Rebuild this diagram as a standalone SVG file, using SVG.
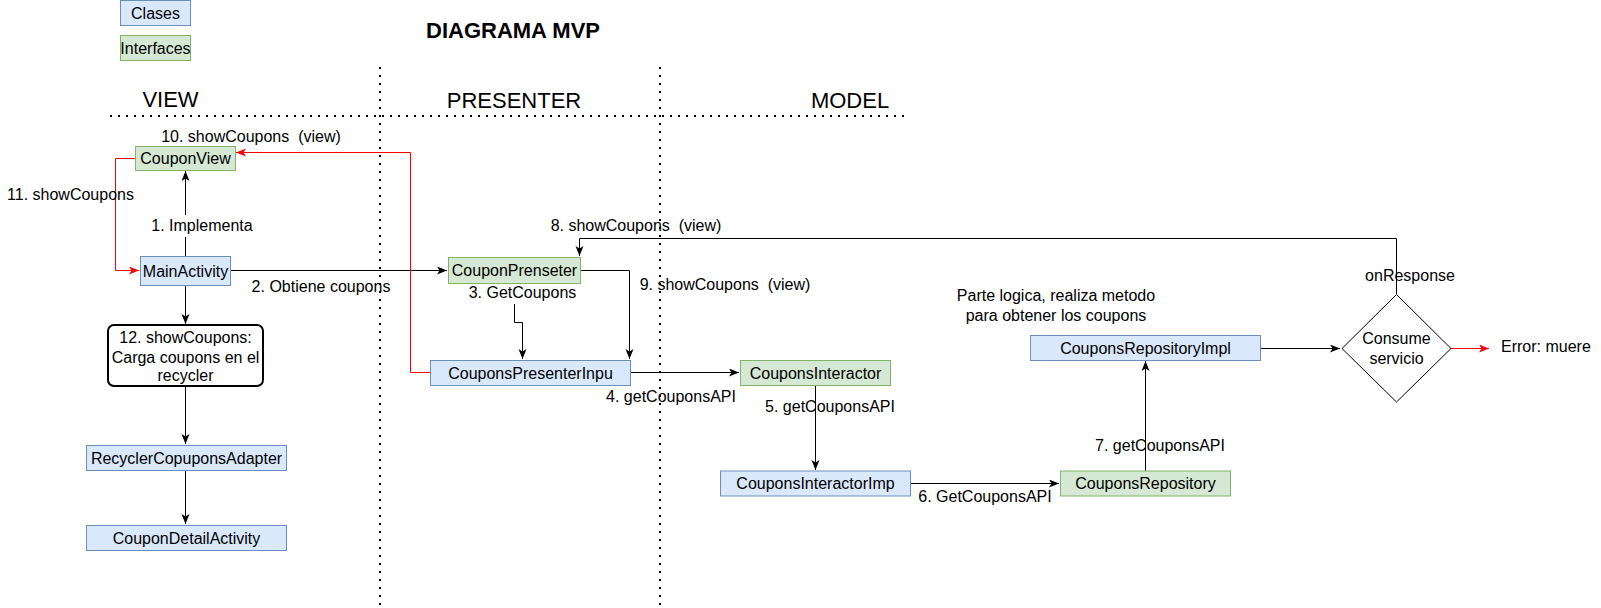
<svg xmlns="http://www.w3.org/2000/svg" width="1601" height="608" viewBox="0 0 1601 608">
<style>
text{font-family:"Liberation Sans",Arial,sans-serif;font-size:16px;fill:#000;white-space:pre}
.c{text-anchor:middle}
.cls{fill:#dae8fc;stroke:#6c8ebf;stroke-width:1}
.ifc{fill:#d5e8d4;stroke:#82b366;stroke-width:1}
.e{fill:none;stroke:#000;stroke-width:1}
.r{fill:none;stroke:#ff0000;stroke-width:1}
.dot{fill:none;stroke:#000;stroke-width:2;stroke-dasharray:2 6}
.hdr{font-size:22px;text-anchor:middle}
</style>
<defs>
<marker id="a" markerUnits="userSpaceOnUse" markerWidth="12" markerHeight="10" refX="10" refY="4" orient="auto" viewBox="0 0 12 10">
<path d="M0,0 L10,4 L0,8 L2.5,4 Z" fill="#000"/>
</marker>
<marker id="ar" markerUnits="userSpaceOnUse" markerWidth="12" markerHeight="10" refX="10" refY="4" orient="auto" viewBox="0 0 12 10">
<path d="M0,0 L10,4 L0,8 L2.5,4 Z" fill="#ff0000"/>
</marker>
</defs>
<rect width="1601" height="608" fill="#fff"/>

<g id="lanes">
<line class="dot" x1="110" y1="116" x2="910" y2="116"/>
<line class="dot" x1="380" y1="67" x2="380" y2="608"/>
<line class="dot" x1="660" y1="67" x2="660" y2="608"/>
<text x="513" y="37.5" style="font-size:22px;font-weight:bold;text-anchor:middle">DIAGRAMA MVP</text>
<text class="hdr" x="170.5" y="107">VIEW</text>
<text class="hdr" x="514" y="108">PRESENTER</text>
<text class="hdr" x="850" y="108">MODEL</text>
</g>

<g id="legend-clases"><rect class="cls" x="120.5" y="0.5" width="70" height="25"/><text class="c" x="155.5" y="18.5">Clases</text></g>
<g id="legend-interfaces"><rect class="ifc" x="120.5" y="35.5" width="70" height="25"/><text class="c" x="155.5" y="53.5">Interfaces</text></g>

<g id="connectors">
<path class="e" d="M185.5,256 V171" marker-end="url(#a)"/>
<path class="e" d="M230,270.5 H447" marker-end="url(#a)"/>
<path class="e" d="M514.5,283 V322.5 H522.5 V359" marker-end="url(#a)"/>
<path class="e" d="M630,372.5 H739" marker-end="url(#a)"/>
<path class="e" d="M815.5,385 V470" marker-end="url(#a)"/>
<path class="e" d="M910,483.5 H1059" marker-end="url(#a)"/>
<path class="e" d="M1145.5,471 V361" marker-end="url(#a)"/>
<path class="e" d="M1260,348.5 H1340" marker-end="url(#a)"/>
<path class="e" d="M1396.5,294 V238.5 H579.5 V256" marker-end="url(#a)"/>
<path class="e" d="M580,270.5 H629.5 V359" marker-end="url(#a)"/>
<path class="r" d="M430,372.5 H410.5 V152.5 H236" marker-end="url(#ar)"/>
<path class="r" d="M135,158.5 H115.5 V270.5 H139" marker-end="url(#ar)"/>
<path class="r" d="M1451,348.5 H1489" marker-end="url(#ar)"/>
<path class="e" d="M185.5,285 V324" marker-end="url(#a)"/>
<path class="e" d="M185.5,386 V444" marker-end="url(#a)"/>
<path class="e" d="M185.5,471 V524" marker-end="url(#a)"/>
</g>

<g id="edge-labels">
<text class="c" x="251" y="142">10. showCoupons  (view)</text>
<text class="c" x="70.5" y="200">11. showCoupons</text>
<rect x="150" y="215" width="104" height="22" fill="#fff"/>
<text class="c" x="202" y="231">1. Implementa</text>
<text class="c" x="321" y="292">2. Obtiene coupons</text>
<rect x="467" y="284" width="111" height="20" fill="#fff"/>
<text class="c" x="522.5" y="298">3. GetCoupons</text>
<text class="c" x="636" y="231">8. showCoupons  (view)</text>
<text class="c" x="725" y="290">9. showCoupons  (view)</text>
<text class="c" x="671" y="402">4. getCouponsAPI</text>
<text class="c" x="830" y="412">5. getCouponsAPI</text>
<text class="c" x="985" y="502">6. GetCouponsAPI</text>
<text class="c" x="1160" y="451">7. getCouponsAPI</text>
<text class="c" x="1410" y="281">onResponse</text>
<text class="c" x="1056" y="301">Parte logica, realiza metodo</text>
<text class="c" x="1056" y="321">para obtener los coupons</text>
<text x="1501" y="352">Error: muere</text>
</g>

<g id="CouponView"><rect class="ifc" x="135.5" y="146.5" width="100" height="24"/><text class="c" x="185.5" y="164">CouponView</text></g>
<g id="MainActivity"><rect class="cls" x="140.5" y="256.5" width="90" height="29"/><text class="c" x="185.5" y="276.5">MainActivity</text></g>
<g id="showCouponsStep"><rect x="108" y="325" width="155" height="61" rx="6" ry="6" fill="#fff" stroke="#000" stroke-width="2"/>
<text class="c" x="185.5" y="343">12. showCoupons:</text><text class="c" x="185.5" y="362.5">Carga coupons en el</text><text class="c" x="185.5" y="381">recycler</text></g>
<g id="RecyclerCopuponsAdapter"><rect class="cls" x="86.5" y="445.5" width="200" height="25"/><text class="c" x="186.5" y="463.5">RecyclerCopuponsAdapter</text></g>
<g id="CouponDetailActivity"><rect class="cls" x="86.5" y="525.5" width="200" height="25"/><text class="c" x="186.5" y="543.5">CouponDetailActivity</text></g>
<g id="CouponPrenseter"><rect class="ifc" x="448.5" y="257.5" width="132" height="26"/><text class="c" x="514.5" y="276">CouponPrenseter</text></g>
<g id="CouponsPresenterInpu"><rect class="cls" x="430.5" y="360.5" width="200" height="25"/><text class="c" x="530.5" y="378.5">CouponsPresenterInpu</text></g>
<g id="CouponsInteractor"><rect class="ifc" x="740.5" y="360.5" width="150" height="25"/><text class="c" x="815.5" y="378.5">CouponsInteractor</text></g>
<g id="CouponsInteractorImp"><rect class="cls" x="720.5" y="471" width="190" height="25"/><text class="c" x="815.5" y="489">CouponsInteractorImp</text></g>
<g id="CouponsRepository"><rect class="ifc" x="1060.5" y="471" width="170" height="25"/><text class="c" x="1145.5" y="489">CouponsRepository</text></g>
<g id="CouponsRepositoryImpl"><rect class="cls" x="1030.5" y="335.5" width="230" height="25"/><text class="c" x="1145.5" y="353.5">CouponsRepositoryImpl</text></g>
<g id="ConsumeServicio"><path d="M1396.5,294.5 L1451,348.5 L1396.5,402 L1342,348.5 Z" fill="#fff" stroke="#000" stroke-width="1"/>
<text class="c" x="1396.5" y="344">Consume</text><text class="c" x="1396.5" y="363.5">servicio</text></g>
</svg>
